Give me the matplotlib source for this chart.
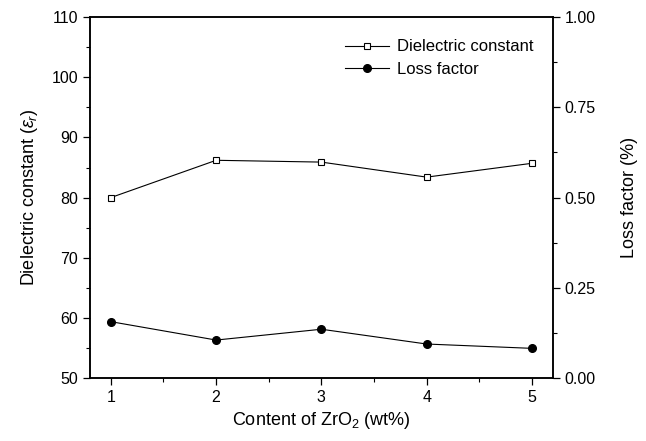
import matplotlib
matplotlib.use("Agg")
import matplotlib.pyplot as plt
from matplotlib.ticker import MultipleLocator

plt.rcParams['font.family'] = ['Liberation Sans', 'DejaVu Sans']
plt.rcParams['mathtext.fontset'] = 'custom'
plt.rcParams['mathtext.rm'] = 'Liberation Sans'
plt.rcParams['mathtext.it'] = 'Liberation Sans:italic'

# data
zro2 = [1, 2, 3, 4, 5]
dielectric = [80.0, 86.2, 85.9, 83.4, 85.7]
loss = [0.156, 0.105, 0.135, 0.094, 0.082]

fig = plt.figure(figsize=(6.46, 4.41), dpi=100)
ax = fig.add_axes([0.139, 0.143, 0.717, 0.818])
ax2 = ax.twinx()

l1, = ax.plot(zro2, dielectric, color='black', lw=0.8, marker='s', ms=5,
              mfc='white', mec='black', mew=0.8, label='Dielectric constant')
l2, = ax2.plot(zro2, loss, color='black', lw=0.8, marker='o', ms=5.5,
               mfc='black', mec='black', label='Loss factor')

ax.set_xlim(0.8, 5.2)
ax.set_ylim(50, 110)
ax2.set_ylim(0, 1.0)

ax.xaxis.set_major_locator(MultipleLocator(1))
ax.xaxis.set_minor_locator(MultipleLocator(0.5))
ax.yaxis.set_major_locator(MultipleLocator(10))
ax.yaxis.set_minor_locator(MultipleLocator(5))
ax2.yaxis.set_major_locator(MultipleLocator(0.25))
ax2.yaxis.set_minor_locator(MultipleLocator(0.125))
ax2.yaxis.set_major_formatter(plt.FormatStrFormatter('%.2f'))

ax.tick_params(axis='both', which='both', direction='out', labelsize=11.5)
ax.tick_params(which='major', length=5, width=0.9)
ax.tick_params(which='minor', length=3, width=0.8)
ax2.tick_params(which='major', direction='out', length=5, width=0.9, labelsize=11.5)
ax2.tick_params(which='minor', direction='out', length=3, width=0.8)

for a in (ax, ax2):
    for s in a.spines.values():
        s.set_linewidth(1.1)

ax.set_xlabel('Content of ZrO$_2$ (wt%)', fontsize=13, labelpad=4)
ax.set_ylabel(r'Dielectric constant ($\varepsilon_r$)', fontsize=13, labelpad=8)
ax2.set_ylabel('Loss factor (%)', fontsize=13, labelpad=18)

ax.legend([l1, l2], ['Dielectric constant', 'Loss factor'], loc='upper right',
          bbox_to_anchor=(0.99, 0.98), frameon=False, fontsize=12,
          handlelength=2.6, handletextpad=0.5, labelspacing=0.45)

fig.savefig('out.png', dpi=100)
